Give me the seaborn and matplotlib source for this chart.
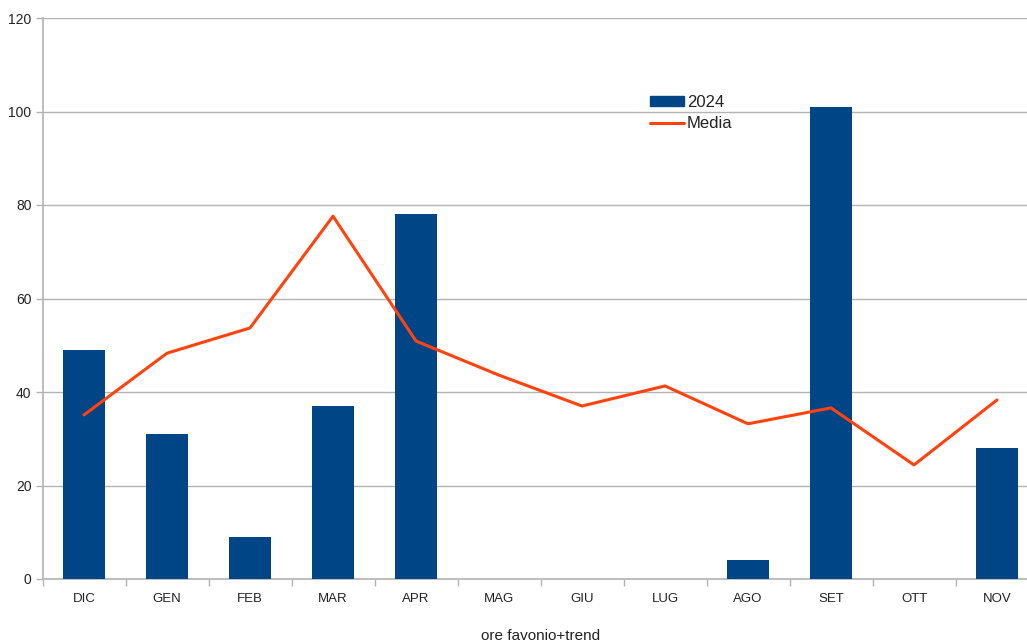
import numpy as np
import pandas as pd
import matplotlib
matplotlib.use("Agg")
import matplotlib.pyplot as plt
from matplotlib.ticker import FixedLocator
from matplotlib.lines import Line2D
from matplotlib.patches import Patch
import seaborn as sns

months = ["DIC", "GEN", "FEB", "MAR", "APR", "MAG", "GIU", "LUG", "AGO", "SET", "OTT", "NOV"]
ore_2024 = [49, 31, 9, 37, 78, 0, 0, 0, 4, 101, 0, 28]
media = [35.1, 48.3, 53.7, 77.6, 50.9, 43.6, 37.0, 41.3, 33.2, 36.6, 24.4, 38.3]

BLUE = "#004586"
ORANGE = "#ff420e"
GRID = "#b3b3b3"

sns.set_theme(style="white")
plt.rcParams["font.family"] = ["Liberation Sans", "DejaVu Sans"]

fig = plt.figure(figsize=(10.27, 6.41), dpi=100)
ax = fig.add_axes([42.5 / 1027, 62 / 641, 996 / 1027, 561 / 641])

df = pd.DataFrame({"mese": months, "ore": ore_2024})
sns.barplot(data=df, x="mese", y="ore", color=BLUE, width=0.5, saturation=1,
            edgecolor=BLUE, linewidth=0, ax=ax, zorder=3)
sns.lineplot(x=np.arange(len(months)), y=media, color=ORANGE, linewidth=2.2,
             ax=ax, zorder=4)

ax.set_xlim(-0.5, len(months) - 0.5)
ax.set_ylim(0, 120)
ax.set_yticks(np.arange(0, 121, 20))
ax.yaxis.grid(True, color=GRID, linewidth=1)
ax.set_axisbelow(True)

for side in ("top", "right"):
    ax.spines[side].set_visible(False)
for side in ("left", "bottom"):
    ax.spines[side].set_color(GRID)
    ax.spines[side].set_linewidth(1.2)

ax.xaxis.set_minor_locator(FixedLocator(np.arange(-0.5, len(months), 1.0)))
ax.tick_params(axis="x", which="major", length=0, pad=10, labelsize=9.5, colors="#222222")
ax.tick_params(axis="x", which="minor", bottom=True, length=5, width=1, color=GRID)
ax.tick_params(axis="y", left=True, length=5, width=1, color=GRID, pad=3,
               labelsize=10, labelcolor="#222222")

ax.set_xlabel("ore favonio+trend", fontsize=11, color="#222222", labelpad=17)
ax.set_ylabel("")

handles = [Patch(facecolor=BLUE, edgecolor=BLUE),
           Line2D([0], [0], color=ORANGE, linewidth=2.2)]
ax.legend(handles, ["2024", "Media"], loc="upper left",
          bbox_to_anchor=(0.602, 0.877), frameon=False, fontsize=12,
          handlelength=2.0, handleheight=0.55, handletextpad=0.2,
          labelspacing=0.35, borderpad=0, labelcolor="#222222")

fig.savefig("out.png", dpi=100)
